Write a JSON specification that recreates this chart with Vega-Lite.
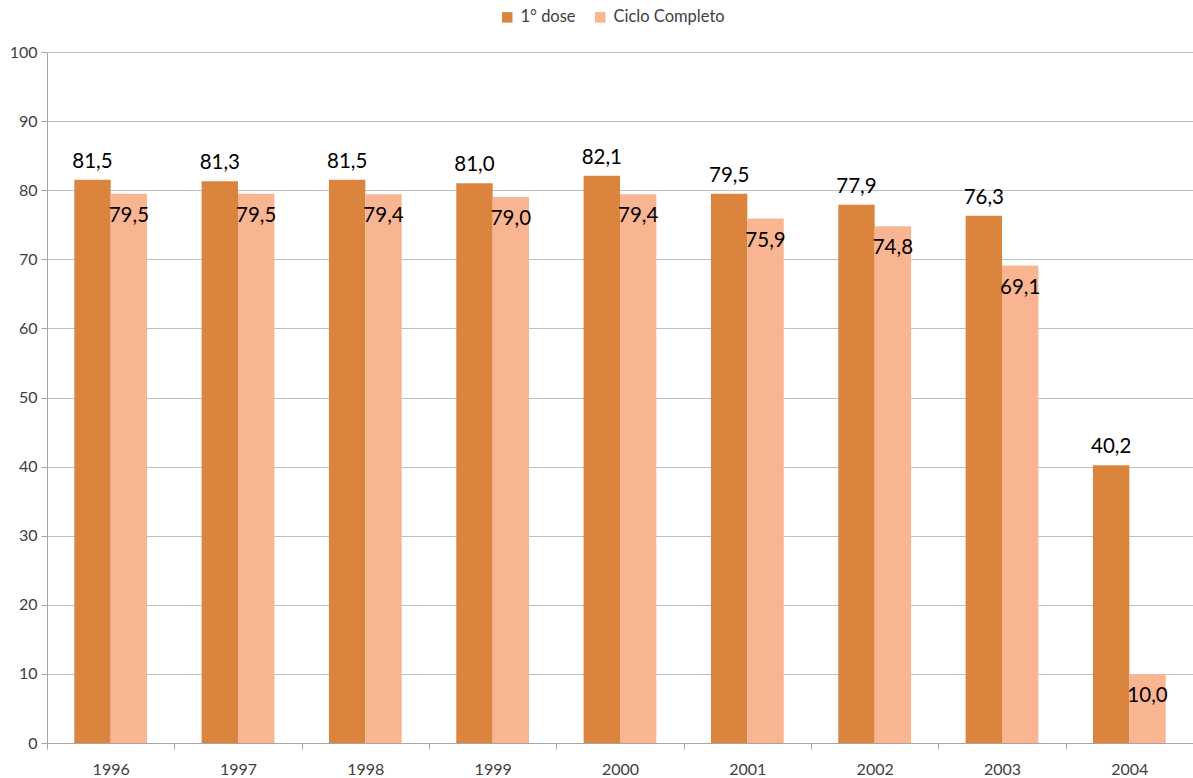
{
  "$schema": "https://vega.github.io/schema/vega-lite/v6.json",
  "autosize": {"type": "none"},
  "width": 1146,
  "height": 691,
  "padding": {"left": 47, "top": 52, "right": 0, "bottom": 35},
  "background": "white",
  "config": {
    "view": {"stroke": null},
    "font": "Lato",
    "axis": {"labelFont": "Lato", "labelColor": "#404040", "labelFontSize": 16, "domainColor": "#A6A6A6", "tickColor": "#A6A6A6", "gridColor": "#BFBFBF"}
  },
  "data": {
    "values": [
      {"anno": "1996", "serie": "1° dose", "valore": 81.5, "etichetta": "81,5"},
      {"anno": "1996", "serie": "Ciclo Completo", "valore": 79.5, "etichetta": "79,5"},
      {"anno": "1997", "serie": "1° dose", "valore": 81.3, "etichetta": "81,3"},
      {"anno": "1997", "serie": "Ciclo Completo", "valore": 79.5, "etichetta": "79,5"},
      {"anno": "1998", "serie": "1° dose", "valore": 81.5, "etichetta": "81,5"},
      {"anno": "1998", "serie": "Ciclo Completo", "valore": 79.4, "etichetta": "79,4"},
      {"anno": "1999", "serie": "1° dose", "valore": 81.0, "etichetta": "81,0"},
      {"anno": "1999", "serie": "Ciclo Completo", "valore": 79.0, "etichetta": "79,0"},
      {"anno": "2000", "serie": "1° dose", "valore": 82.1, "etichetta": "82,1"},
      {"anno": "2000", "serie": "Ciclo Completo", "valore": 79.4, "etichetta": "79,4"},
      {"anno": "2001", "serie": "1° dose", "valore": 79.5, "etichetta": "79,5"},
      {"anno": "2001", "serie": "Ciclo Completo", "valore": 75.9, "etichetta": "75,9"},
      {"anno": "2002", "serie": "1° dose", "valore": 77.9, "etichetta": "77,9"},
      {"anno": "2002", "serie": "Ciclo Completo", "valore": 74.8, "etichetta": "74,8"},
      {"anno": "2003", "serie": "1° dose", "valore": 76.3, "etichetta": "76,3"},
      {"anno": "2003", "serie": "Ciclo Completo", "valore": 69.1, "etichetta": "69,1"},
      {"anno": "2004", "serie": "1° dose", "valore": 40.2, "etichetta": "40,2"},
      {"anno": "2004", "serie": "Ciclo Completo", "valore": 10.0, "etichetta": "10,0"}
    ]
  },
  "encoding": {
    "x": {
      "field": "anno", "type": "nominal",
      "scale": {"paddingInner": 0, "paddingOuter": 0},
      "axis": {"title": null, "labelAngle": 0, "tickBand": "extent", "tickSize": 6, "labelPadding": 12, "grid": false}
    },
    "xOffset": {"field": "serie", "type": "nominal", "scale": {"domain": ["1° dose", "Ciclo Completo"], "paddingInner": 0, "paddingOuter": 0.75}},
    "y": {
      "field": "valore", "type": "quantitative",
      "scale": {"domain": [0, 100], "nice": false},
      "axis": {"title": null, "values": [0,10,20,30,40,50,60,70,80,90,100], "labelOverlap": false, "grid": true, "tickSize": 6, "labelPadding": 4}
    }
  },
  "layer": [
    {
      "mark": {"type": "bar"},
      "encoding": {
        "color": {
          "field": "serie", "type": "nominal",
          "scale": {"domain": ["1° dose", "Ciclo Completo"], "range": ["#DA843E", "#F9B591"]},
          "legend": {"title": null, "orient": "none", "legendX": 452, "legendY": -43, "direction": "horizontal", "symbolType": "square", "symbolSize": 110, "symbolStrokeWidth": 0, "labelFontSize": 16.5, "labelFont": "Lato", "labelColor": "#404040", "columnPadding": 16, "labelOffset": 5}
        }
      }
    },
    {
      "transform": [{"filter": "datum.serie === '1° dose'"}],
      "mark": {"type": "text", "baseline": "bottom", "dy": -8, "fontSize": 20.5, "color": "#000000", "font": "Lato"},
      "encoding": {"text": {"field": "etichetta"}}
    },
    {
      "transform": [{"filter": "datum.serie === 'Ciclo Completo'"}],
      "mark": {"type": "text", "baseline": "top", "dy": 12, "fontSize": 20.5, "color": "#000000", "font": "Lato"},
      "encoding": {"text": {"field": "etichetta"}}
    }
  ]
}
